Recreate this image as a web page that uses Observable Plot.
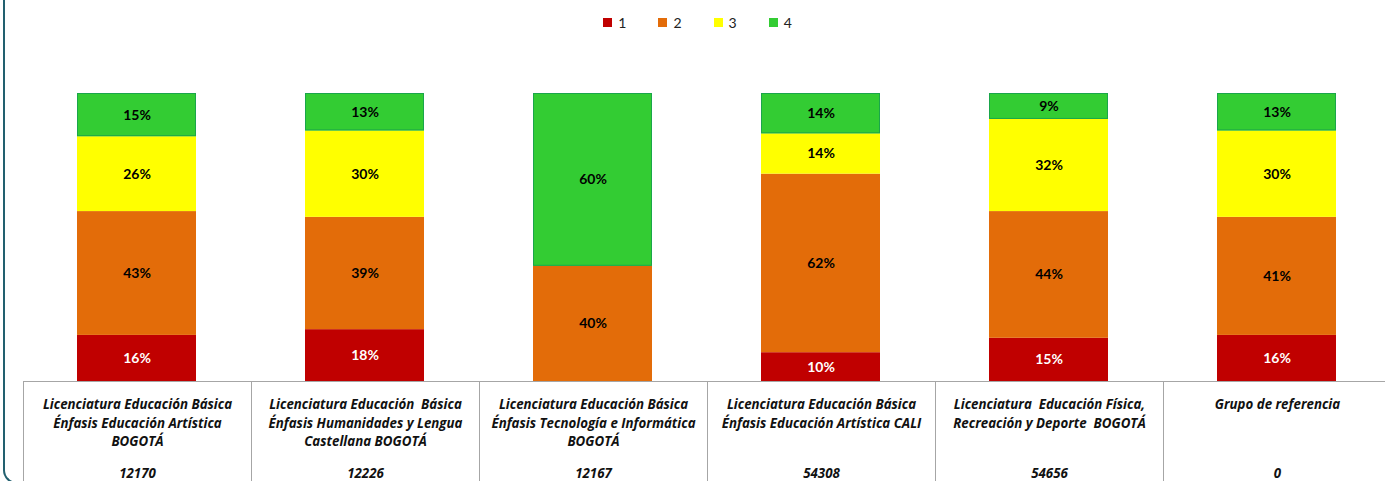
<!DOCTYPE html>
<html>
<head>
<meta charset="utf-8">
<script src="https://cdn.jsdelivr.net/npm/d3@7"></script>
<script src="https://cdn.jsdelivr.net/npm/@observablehq/plot@0.6"></script>
<style>
  html, body { margin: 0; padding: 0; background: #fff; }
  #wrap { position: relative; width: 1385px; height: 481px; overflow: hidden; font-family: Lato, "Open Sans", sans-serif; }
  #frame { position: absolute; left: 3px; top: -30px; width: 60px; height: 514px; border-left: 2px solid #22606f; border-bottom: 2px solid #22606f; border-bottom-left-radius: 14px; box-sizing: border-box; }
  #legend { position: absolute; top: 12px; left: 5px; width: 1385px; display: flex; justify-content: center; font-size: 14px; color: #222; }
  #legend .item { display: flex; align-items: center; margin: 0 16px; height: 20px; }
  #legend .sw { width: 9px; height: 9px; margin-right: 6px; box-sizing: border-box; }
  #chart { position: absolute; left: 0; top: 0; }
  .cell { position: absolute; top: 381px; height: 110px; border-left: 1px solid #a6a6a6; border-top: 1px solid #a6a6a6; box-sizing: border-box; font-family: "Open Sans", Lato, sans-serif; font-style: italic; font-weight: bold; font-size: 13.3px; color: #111; text-align: center; }
  .cell .name { position: absolute; top: 13px; left: 0; right: 0; line-height: 18.5px; white-space: pre; }
  .cell .code { position: absolute; top: 85px; left: 0; right: 0; line-height: 13px; height: 13px; }
</style>
</head>
<body>
<div id="wrap">
  <div id="frame"></div>
  <div id="chart"></div>
  <div id="legend"></div>
</div>
<script>
const categories = [
  "Licenciatura Educación Básica\nÉnfasis Educación Artística\nBOGOTÁ",
  "Licenciatura Educación  Básica\nÉnfasis Humanidades y Lengua\nCastellana BOGOTÁ",
  "Licenciatura Educación Básica\nÉnfasis Tecnología e Informática\nBOGOTÁ",
  "Licenciatura Educación Básica\nÉnfasis Educación Artística CALI",
  "Licenciatura  Educación Física,\nRecreación y Deporte  BOGOTÁ",
  "Grupo de referencia"
];
const codes = ["12170", "12226", "12167", "54308", "54656", "0"];
const series = ["1", "2", "3", "4"];
const colors = ["#c00000", "#e36c09", "#ffff00", "#33cc33"];
const s1 = [16, 18, 0, 10, 15, 16];
const s2 = [43, 39, 40, 62, 44, 41];
const s3 = [26, 30, 0, 14, 32, 30];
const s4 = [15, 13, 60, 14, 9, 13];
const seriesValues = [s1, s2, s3, s4];

const data = categories.flatMap((c, i) =>
  series.map((s, j) => ({cat: c, series: s, value: seriesValues[j][i]}))
);

const base = {x: "cat", y: "value", z: "series"};

const chart = Plot.plot({
  width: 1385,
  height: 382,
  marginTop: 93,
  marginBottom: 1,
  marginLeft: 22,
  marginRight: 0,
  x: {domain: categories, range: [22, 1390], paddingInner: 0.48, paddingOuter: 0.24, axis: null},
  y: {domain: [0, 100], axis: null},
  color: {domain: series, range: colors},
  style: {fontFamily: "Lato, 'Open Sans', sans-serif", fontSize: "14px", fontWeight: "bold", background: "transparent"},
  marks: [
    Plot.barY(data, Plot.stackY({...base, fill: "series"})),
    Plot.barY(data, Plot.filter(d => d.series === "4" && d.value > 0,
      Plot.stackY({...base, fill: "series", stroke: "#1aa64a", strokeWidth: 1, inset: 0.5}))),
    Plot.text(data, Plot.filter(d => d.series === "1" && d.value > 0,
      Plot.stackY({...base, text: d => d.value + "%", fill: "white"}))),
    Plot.text(data, Plot.filter(d => d.series !== "1" && d.value > 0,
      Plot.stackY({...base, text: d => d.value + "%", fill: "black"})))
  ]
});
document.getElementById("chart").appendChild(chart);

// legend
const legend = document.getElementById("legend");
series.forEach((s, i) => {
  const item = document.createElement("div");
  item.className = "item";
  const sw = document.createElement("span");
  sw.className = "sw";
  sw.style.background = colors[i];
  const lab = document.createElement("span");
  lab.textContent = s;
  item.appendChild(sw);
  item.appendChild(lab);
  legend.appendChild(item);
});

// category table below, positioned from the x scale
const xs = chart.scale("x");
const wrap = document.getElementById("wrap");
categories.forEach((c, i) => {
  const center = xs.apply(c) + xs.bandwidth / 2;
  const cell = document.createElement("div");
  cell.className = "cell";
  cell.style.left = (center - xs.step / 2) + "px";
  cell.style.width = (xs.step + 1) + "px";
  const nm = document.createElement("div");
  nm.className = "name";
  nm.textContent = c;
  const cd = document.createElement("div");
  cd.className = "code";
  cd.textContent = codes[i];
  cell.appendChild(nm);
  cell.appendChild(cd);
  wrap.appendChild(cell);
});
</script>
</body>
</html>
